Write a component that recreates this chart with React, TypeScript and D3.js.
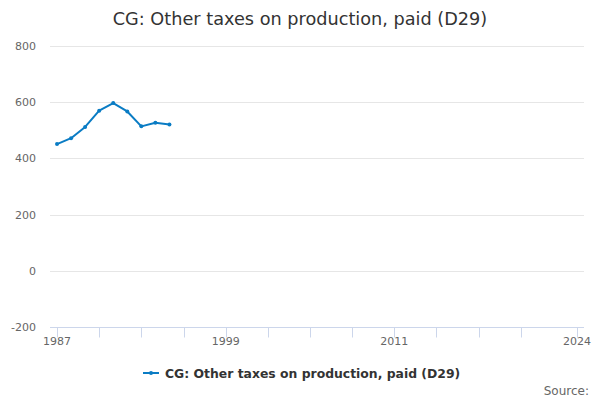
import * as d3 from "d3";
import { useEffect, useRef } from "react";

const title = "CG: Other taxes on production, paid (D29)";
const seriesName = "CG: Other taxes on production, paid (D29)";

// years on the category axis
const years: number[] = d3.range(1987, 2025);

// values (only the first years have data)
const dataYears = [1987, 1988, 1989, 1990, 1991, 1992, 1993, 1994, 1995];
const values = [451, 472, 512, 570, 597, 567, 514, 527, 521];

const yTicks = [-200, 0, 200, 400, 600, 800];
const xTickYears = [1987, 1990, 1993, 1996, 1999, 2002, 2005, 2008, 2011, 2014, 2017, 2020, 2024];
const xLabelYears = [1987, 1999, 2011, 2024];

const width = 600;
const height = 400;
const font = "'DejaVu Sans', sans-serif";

export default function App() {
  const ref = useRef<SVGSVGElement>(null);

  useEffect(() => {
    const margin = { top: 46, bottom: 73, left: 50, right: 16 };

    d3.select(ref.current).selectAll("*").remove();
    const svg = d3.select(ref.current);

    const x = d3.scalePoint<number>()
      .domain(years)
      .range([margin.left, width - margin.right])
      .padding(0.5);

    const y = d3.scaleLinear()
      .domain([-200, 800])
      .range([height - margin.bottom, margin.top]);

    // background
    svg.append("rect").attr("width", width).attr("height", height).attr("fill", "#ffffff");

    // title
    svg.append("text")
      .attr("x", width / 2)
      .attr("y", 25)
      .attr("text-anchor", "middle")
      .style("font-family", font)
      .style("font-size", "17.7px")
      .attr("fill", "#333333")
      .text(title);

    // gridlines
    svg.append("g")
      .selectAll("line")
      .data(yTicks.filter((d) => d !== -200))
      .join("line")
      .attr("x1", margin.left)
      .attr("x2", width - margin.right)
      .attr("y1", (d) => Math.round(y(d)) + 0.5)
      .attr("y2", (d) => Math.round(y(d)) + 0.5)
      .attr("stroke", "#e6e6e6");

    // y labels
    svg.append("g")
      .selectAll("text")
      .data(yTicks)
      .join("text")
      .attr("x", 36)
      .attr("y", (d) => y(d) + 4)
      .attr("text-anchor", "end")
      .style("font-family", font)
      .style("font-size", "11px")
      .attr("fill", "#666666")
      .text((d) => d);

    // x axis line
    const axisY = Math.round(y(-200)) + 0.5;
    svg.append("line")
      .attr("x1", margin.left)
      .attr("x2", width - margin.right)
      .attr("y1", axisY)
      .attr("y2", axisY)
      .attr("stroke", "#ccd6eb");

    svg.append("g")
      .selectAll("line")
      .data(xTickYears)
      .join("line")
      .attr("x1", (d) => Math.round(x(d)!) + 0.5)
      .attr("x2", (d) => Math.round(x(d)!) + 0.5)
      .attr("y1", axisY)
      .attr("y2", axisY + 10)
      .attr("stroke", "#ccd6eb");

    svg.append("g")
      .selectAll("text")
      .data(xLabelYears)
      .join("text")
      .attr("x", (d) => x(d)!)
      .attr("y", axisY + 17)
      .attr("text-anchor", "middle")
      .style("font-family", font)
      .style("font-size", "11px")
      .attr("fill", "#666666")
      .text((d) => d);

    // series
    const color = "#0a7cc4";
    const pts = dataYears.map((yr, i) => ({ yr, v: values[i] }));
    const line = d3.line<{ yr: number; v: number }>()
      .x((d) => x(d.yr)!)
      .y((d) => y(d.v));

    svg.append("path")
      .datum(pts)
      .attr("fill", "none")
      .attr("stroke", color)
      .attr("stroke-width", 2)
      .attr("stroke-linejoin", "round")
      .attr("d", line);

    svg.append("g")
      .selectAll("circle")
      .data(pts)
      .join("circle")
      .attr("cx", (d) => x(d.yr)!)
      .attr("cy", (d) => y(d.v))
      .attr("r", 2)
      .attr("fill", color);

    // legend
    const legY = 373;
    svg.append("line")
      .attr("x1", 143)
      .attr("x2", 159)
      .attr("y1", legY)
      .attr("y2", legY)
      .attr("stroke", color)
      .attr("stroke-width", 2);
    svg.append("circle")
      .attr("cx", 151)
      .attr("cy", legY)
      .attr("r", 2)
      .attr("fill", color);
    svg.append("text")
      .attr("x", 165)
      .attr("y", legY + 4.5)
      .style("font-family", font)
      .style("font-size", "12.4px")
      .style("font-weight", "bold")
      .attr("fill", "#333333")
      .text(seriesName);

    // credits
    svg.append("text")
      .attr("x", 589)
      .attr("y", 395)
      .attr("text-anchor", "end")
      .style("font-family", font)
      .style("font-size", "12px")
      .attr("fill", "#666666")
      .text("Source:");
  }, []);

  return <svg ref={ref} width={width} height={height} style={{ position: "absolute", left: 0, top: 0 }} />;
}
